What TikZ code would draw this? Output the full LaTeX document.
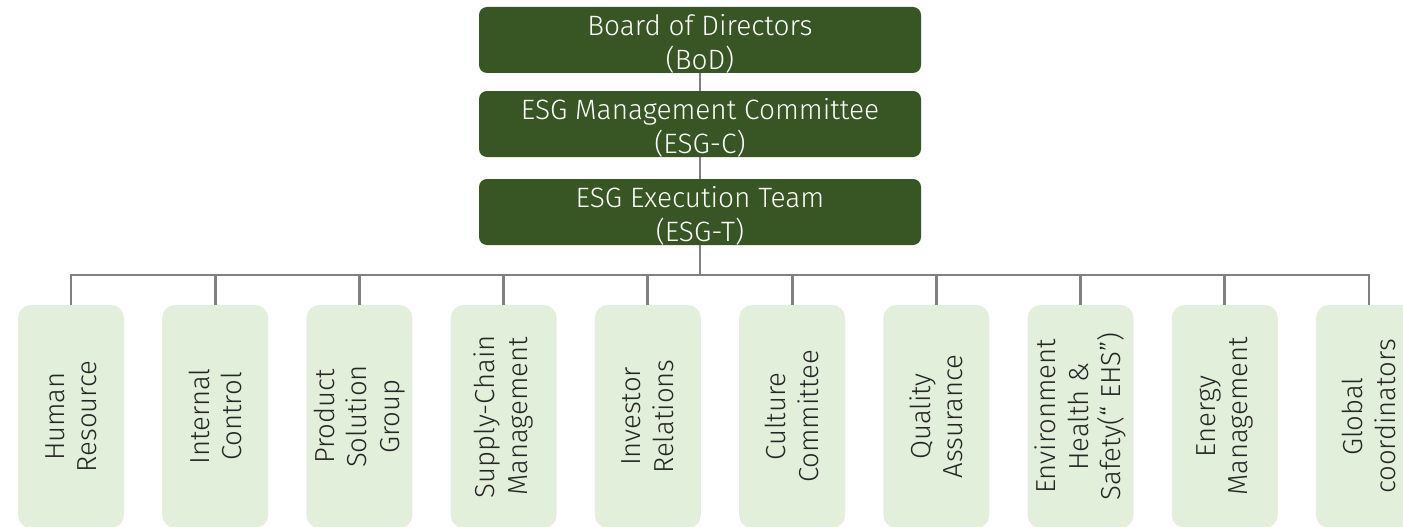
\documentclass[tikz,border=0pt]{standalone}
\usepackage{fontspec}
\IfFontExistsTF{Fira Sans Light}{\setmainfont{Fira Sans Light}}{\setmainfont{Open Sans}}
\usetikzlibrary{calc}
\definecolor{darkgreen}{HTML}{375623}
\definecolor{palegreen}{HTML}{E2EFDA}
\definecolor{linkgray}{HTML}{808080}
\tikzset{
  headbox/.style={draw=none, fill=darkgreen, rounded corners=8pt,
    minimum width=442pt, minimum height=66pt, inner sep=0pt},
  headlabel/.style={text=white, align=center, inner sep=0pt,
    font=\fontsize{28}{34.5}\selectfont},
  unitbox/.style={draw=none, fill=palegreen, rounded corners=13pt,
    minimum width=106pt, minimum height=223pt, inner sep=0pt},
  unitlabel/.style={rotate=90, align=center, text=black!85, inner sep=0pt,
    font=\fontsize{27.5}{32.5}\selectfont},
  link/.style={draw=linkgray, line width=2.8pt}
}
\begin{document}
\begin{tikzpicture}[x=1pt,y=-1pt]
\useasboundingbox (0,0) rectangle (1403,527);
% executive chain
\node[headbox] (bod)  at (700,40)  {};
\node[headbox] (esgc) at (700,124) {};
\node[headbox] (esgt) at (700,212) {};
\node[headlabel] (bodt)  at ($(bod)+(0,4)$)  {Board of Directors\\(BoD)};
\node[headlabel] (esgct) at ($(esgc)+(0,4)$) {ESG Management Committee\\(ESG-C)};
\node[headlabel] (esgtt) at ($(esgt)+(0,4)$) {ESG Execution Team\\(ESG-T)};
\draw[link] (bod.south) -- (esgc.north);
\draw[link] (esgc.south) -- (esgt.north);
\coordinate (bus) at (700,275);
\draw[link] (esgt.south) -- (bus);
% functional units
\foreach \i/\txt in {0/{Human\\Resource},1/{Internal\\Control},2/{Product\\Solution\\Group},
  3/{Supply-Chain\\Management},4/{Investor\\Relations},5/{Culture\\Committee},
  6/{Quality\\Assurance},7/{Environment\\Health \&\\Safety(“ EHS”)},
  8/{Energy\\Management},9/{Global\\coordinators}}{
  \node[unitbox] (u\i) at ({71+144.22*\i},416.5) {};
  \node[unitlabel] (t\i) at (u\i) {\txt};
  \draw[link] (bus) -| (u\i.north);
}
\end{tikzpicture}
\end{document}
